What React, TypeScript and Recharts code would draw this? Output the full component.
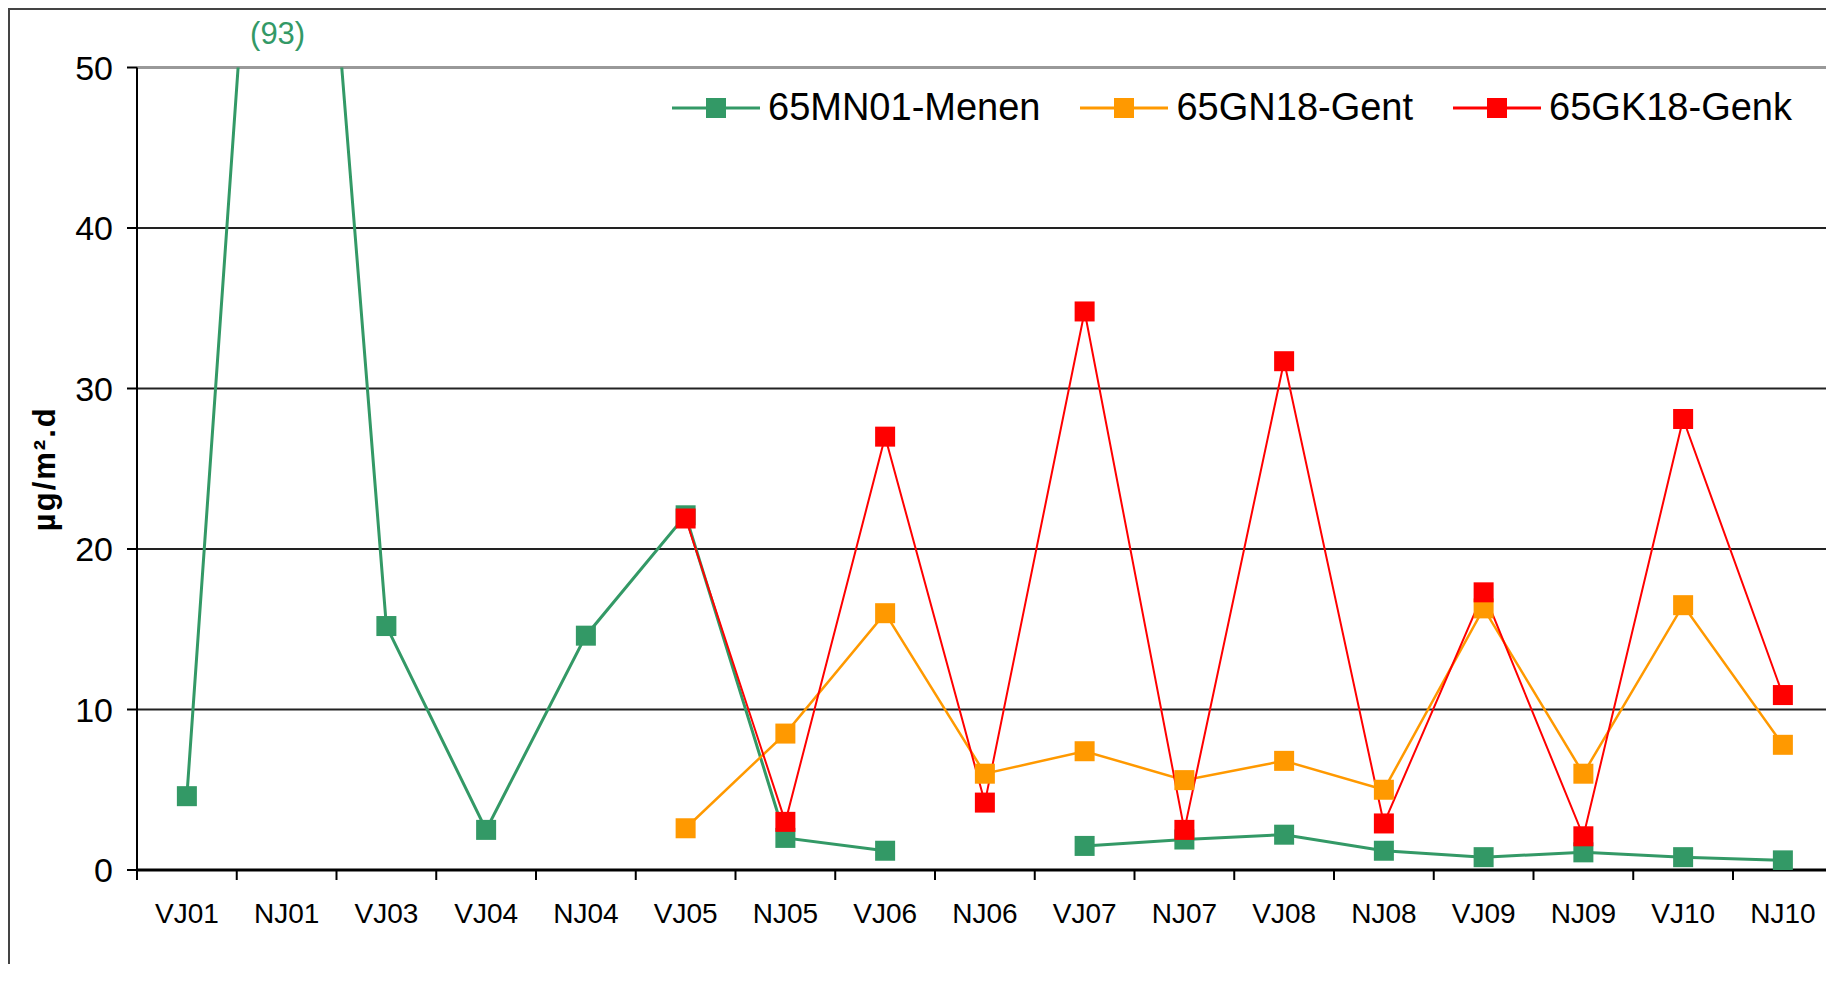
import React from "react";
import {
  LineChart,
  Line,
  XAxis,
  YAxis,
  CartesianGrid,
  ReferenceLine,
  Legend,
  LabelList,
  Label,
} from "recharts";

// sampling periods (VJ = voorjaar, NJ = najaar)
const categories = [
  "VJ01", "NJ01", "VJ03", "VJ04", "NJ04", "VJ05", "NJ05", "VJ06", "NJ06",
  "VJ07", "NJ07", "VJ08", "NJ08", "VJ09", "NJ09", "VJ10", "NJ10",
];

const menen = [4.6, 93, 15.2, 2.5, 14.6, 22.1, 2.0, 1.2, null, 1.5, 1.9, 2.2, 1.2, 0.8, 1.1, 0.8, 0.6];
const gent = [null, null, null, null, null, 2.6, 8.5, 16.0, 6.0, 7.4, 5.6, 6.8, 5.0, 16.3, 6.0, 16.5, 7.8];
const genk = [null, null, null, null, null, 21.9, 3.0, 27.0, 4.2, 34.8, 2.5, 31.7, 2.9, 17.3, 2.1, 28.1, 10.9];

const yTicks = [0, 10, 20, 30, 40, 50];
const Y_MAX = 50;

const series = [
  { key: "menen", name: "65MN01-Menen", color: "#339966", width: 3 },
  { key: "gent", name: "65GN18-Gent", color: "#FF9900", width: 2.5 },
  { key: "genk", name: "65GK18-Genk", color: "#FF0000", width: 2 },
];

const data = categories.map((cat, i) => ({
  cat,
  menen: menen[i],
  gent: gent[i],
  genk: genk[i],
}));

const FONT = "'Liberation Sans', Arial, sans-serif";
const CHART_W = 1860;
const CHART_H = 982;
const PLOT_TOP = 67.5;
const STEP = 99.75; // width of one category slot

const SquareDot = (color: string) => (props: any) => {
  const { cx, cy, index } = props;
  if (cx == null || cy == null || props.value == null) return <g key={index} />;
  return <rect key={index} x={cx - 10} y={cy - 10} width={20} height={20} fill={color} />;
};

// Excel-style: tick marks between categories, label in the middle
const CategoryTick = (props: any) => {
  const { x, y, payload } = props;
  const edge = x - STEP / 2;
  return (
    <g>
      <line x1={edge} x2={edge} y1={y} y2={y + 10} stroke="#000" strokeWidth={2} />
      <text x={x} y={y + 53} textAnchor="middle" fontSize={28} fill="#000" fontFamily={FONT}>
        {payload.value}
      </text>
    </g>
  );
};

// value above the axis maximum is written above the plot
const OverflowLabel = (props: any) => {
  const x = props.x ?? props.viewBox?.x;
  const { value } = props;
  if (value == null || value <= Y_MAX) return null;
  return (
    <text x={x - 9} y={PLOT_TOP - 24} textAnchor="middle" fontSize={31} fill="#339966" fontFamily={FONT}>
      ({value})
    </text>
  );
};

const LegendContent = () => (
  <div style={{ display: "flex", alignItems: "center", gap: 40, fontFamily: FONT, fontSize: 38, whiteSpace: "nowrap" }}>
    {series.map((s) => (
      <div key={s.key} style={{ display: "flex", alignItems: "center" }}>
        <svg width={88} height={24} style={{ marginRight: 8 }}>
          <line x1={0} x2={88} y1={12} y2={12} stroke={s.color} strokeWidth={3} />
          <rect x={34} y={2} width={20} height={20} fill={s.color} />
        </svg>
        <span style={{ color: "#000" }}>{s.name}</span>
      </div>
    ))}
  </div>
);

const YUnitLabel = (props: any) => {
  const vb = props.viewBox || {};
  const cy = vb.y + vb.height / 2;
  const cx = 44;
  return (
    <text
      x={cx}
      y={cy}
      transform={`rotate(-90 ${cx} ${cy})`}
      textAnchor="middle"
      dominantBaseline="central"
      fontSize={31}
      letterSpacing={2}
      fontWeight="bold"
      fill="#000"
      fontFamily={FONT}
    >
      µg/m².d
    </text>
  );
};

export default function App() {
  return (
    <div
      style={{
        position: "fixed",
        left: 0,
        top: 0,
        width: 1826,
        height: 982,
        overflow: "hidden",
        background: "#fff",
      }}
    >
      <div
        style={{
          position: "absolute",
          left: 8,
          top: 8,
          width: 1840,
          height: 954,
          borderTop: "2px solid #444",
          borderLeft: "2px solid #444",
        }}
      />
      <div style={{ position: "absolute", left: 0, top: 0 }}>
        <LineChart
          width={CHART_W}
          height={CHART_H}
          data={data}
          margin={{ top: PLOT_TOP, right: CHART_W - (137 + 17 * STEP), bottom: 52, left: 57 }}
        >
          <CartesianGrid horizontal vertical={false} stroke="#222" strokeWidth={2} horizontalValues={[10, 20, 30, 40]} />
          <ReferenceLine y={50} stroke="#999" strokeWidth={3} />
          <XAxis
            dataKey="cat"
            height={60}
            padding={{ left: STEP / 2, right: STEP / 2 }}
            tickLine={false}
            tickSize={0}
            tickMargin={0}
            tick={<CategoryTick />}
            interval={0}
            axisLine={{ stroke: "#000", strokeWidth: 3 }}
          />
          <YAxis
            width={80}
            domain={[0, Y_MAX]}
            ticks={yTicks}
            allowDataOverflow
            tickSize={10}
            tickMargin={14}
            tickLine={{ stroke: "#000", strokeWidth: 2 }}
            axisLine={{ stroke: "#000", strokeWidth: 2 }}
            tick={{ fill: "#000", fontSize: 34, fontFamily: FONT }}
          >
            <Label content={<YUnitLabel />} />
          </YAxis>
          <Legend
            layout="vertical"
            verticalAlign="middle"
            align="center"
            content={<LegendContent />}
            wrapperStyle={{ top: 86, left: 672, width: "auto" }}
          />
          {series.map((s) => (
            <Line
              key={s.key}
              dataKey={s.key}
              name={s.name}
              type="linear"
              stroke={s.color}
              strokeWidth={s.width}
              dot={SquareDot(s.color)}
              activeDot={false}
              isAnimationActive={false}
            >
              {s.key === "menen" && <LabelList dataKey="menen" content={<OverflowLabel />} />}
            </Line>
          ))}
        </LineChart>
      </div>
    </div>
  );
}
